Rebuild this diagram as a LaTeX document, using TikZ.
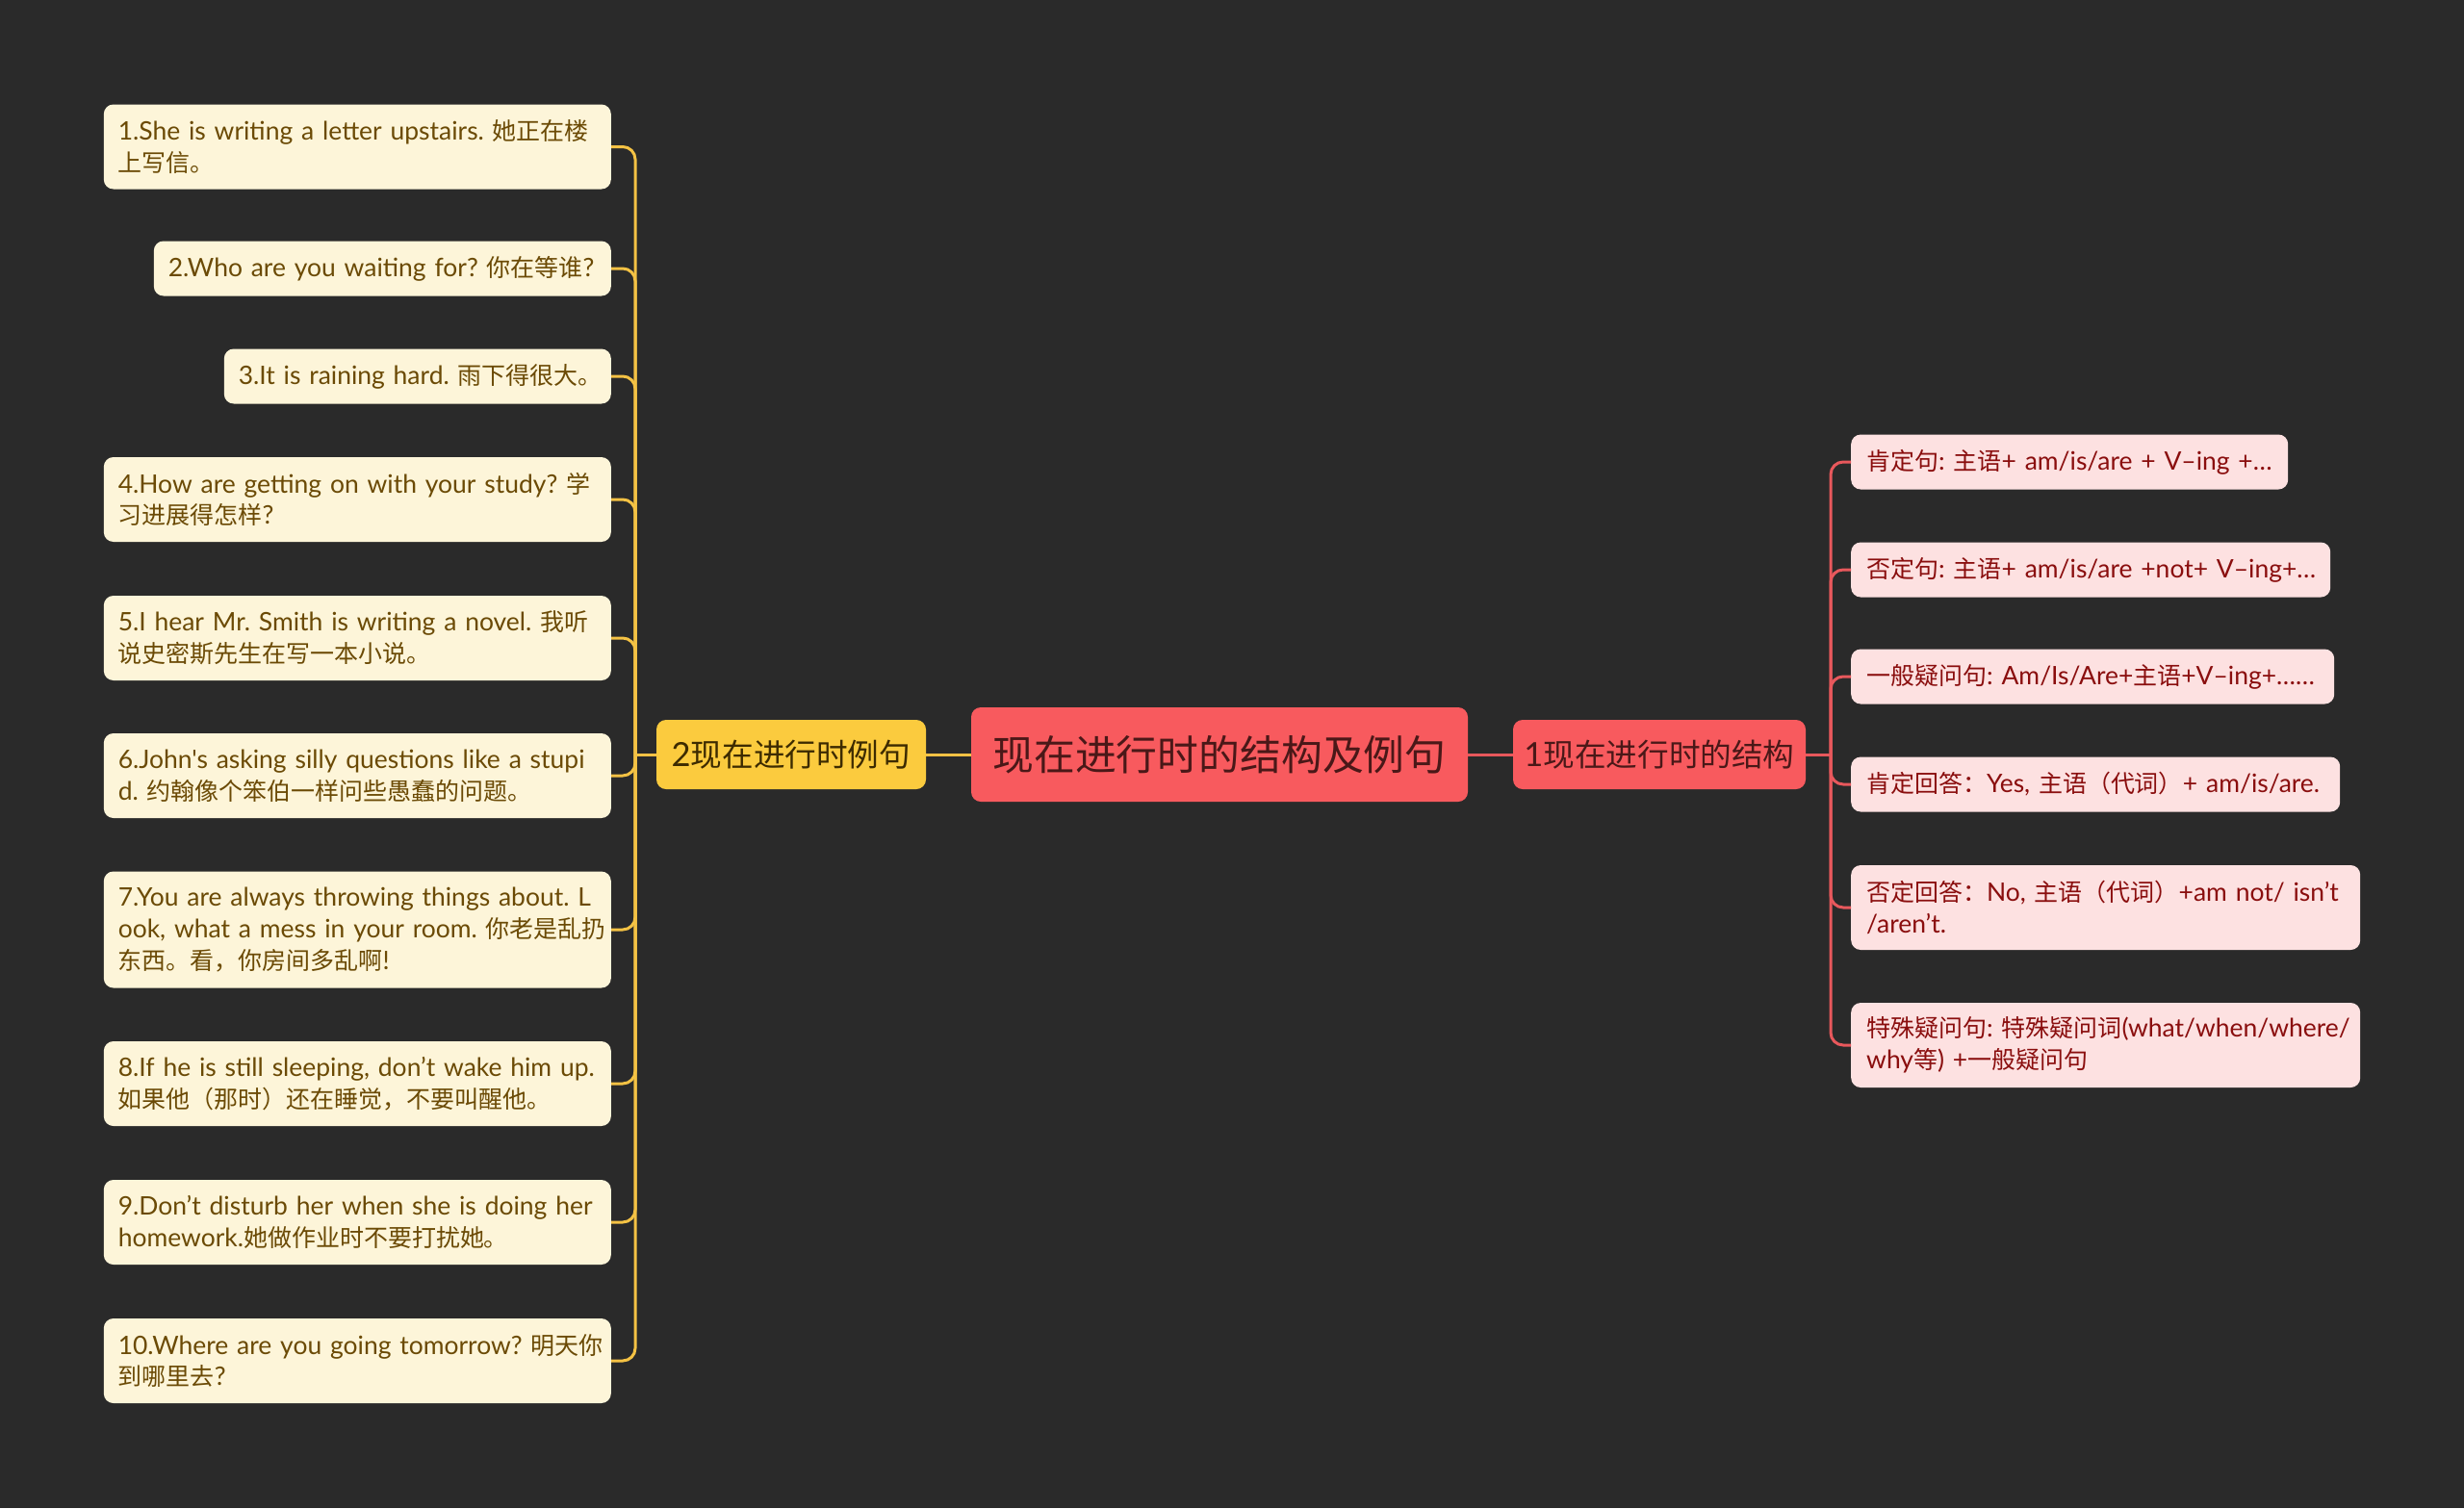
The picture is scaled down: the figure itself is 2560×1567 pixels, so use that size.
\documentclass[tikz,border=0pt]{standalone}
\usepackage{fontspec}
\setmainfont{Lato}[Ligatures=TeXOff,Scale=1.08]
\newfontfamily\cjkf{Noto Sans CJK SC}[Ligatures=TeXOff,Scale=1.02]
\frenchspacing
\XeTeXinterchartokenstate=1
\newXeTeXintercharclass\CJKcls
\newcount\cjkcnt
\def\setcjkrange#1#2{\cjkcnt=#1 \loop\XeTeXcharclass\cjkcnt=\CJKcls\relax\ifnum\cjkcnt<#2 \advance\cjkcnt by 1 \repeat}
\setcjkrange{"4E00}{"9FFF}
\setcjkrange{"3000}{"303F}
\setcjkrange{"FF00}{"FFEF}
\XeTeXinterchartoks 0 \CJKcls = {\begingroup\cjkf}
\XeTeXinterchartoks 4095 \CJKcls = {\begingroup\cjkf}
\XeTeXinterchartoks \CJKcls 0 = {\endgroup}
\XeTeXinterchartoks \CJKcls 4095 = {\endgroup}
\definecolor{bgc}{HTML}{2A2A2A}
\definecolor{leafY}{HTML}{FDF5D9}
\definecolor{leafYt}{HTML}{6B4A05}
\definecolor{linkY}{HTML}{F4C244}
\definecolor{midY}{HTML}{FBCB3E}
\definecolor{midYt}{HTML}{3D2B00}
\definecolor{rootR}{HTML}{F85A5E}
\definecolor{rootRt}{HTML}{4A1818}
\definecolor{linkR}{HTML}{E8585C}
\definecolor{leafR}{HTML}{FDE1E1}
\definecolor{leafRt}{HTML}{8A0E0E}
\tikzset{
  leafy/.style={rectangle, rounded corners=10pt, fill=leafY, text=leafYt, inner xsep=15pt, inner ysep=0pt, align=left, anchor=east, font=\fontsize{24.5}{32.7}\selectfont},
  leafr/.style={rectangle, rounded corners=10pt, fill=leafR, text=leafRt, inner xsep=16pt, inner ysep=0pt, align=left, anchor=west, font=\fontsize{24.5}{32.7}\selectfont},
  one/.style={minimum height=57pt},
  two/.style={minimum height=88pt},
  three/.style={minimum height=121pt},
  ylink/.style={draw=linkY, line width=3pt, rounded corners=13pt},
  rlink/.style={draw=linkR, line width=3pt, rounded corners=13pt},
}
\begin{document}
\begin{tikzpicture}[x=1pt,y=-1pt]
\fill[bgc] (0,0) rectangle (2560,1567);

% root and first level
\node[rectangle, rounded corners=10pt, fill=rootR, text=rootRt, minimum width=516pt, minimum height=98pt, inner sep=0pt, font=\fontsize{42}{48}\selectfont] (root) at (1267,784) {现在进行时的结构及例句};
\node[rectangle, rounded corners=10pt, fill=midY, text=midYt, minimum width=280pt, minimum height=72pt, inner sep=0pt, font=\fontsize{32}{38}\selectfont] (ex) at (822,784) {2现在进行时例句};
\node[rectangle, rounded corners=10pt, fill=rootR, text=rootRt, minimum width=304pt, minimum height=72pt, inner sep=0pt, font=\fontsize{32}{38}\selectfont] (st) at (1724,784) {1现在进行时的结构};

\coordinate (lt) at (660,784);
\coordinate (rt) at (1902,784);

% left leaves
\node[leafy, two, text width=497pt] (b1) at (635,152.5) {\mbox{1.She is writing a letter upstairs. 她正在楼}\\\mbox{上写信。}};
\node[leafy, one, text width=445pt] (b2) at (635,279) {\mbox{2.Who are you waiting for? 你在等谁?}};
\node[leafy, one, text width=372pt] (b3) at (635,391) {\mbox{3.It is raining hard. 雨下得很大。}};
\node[leafy, two, text width=497pt] (b4) at (635,519) {\mbox{4.How are getting on with your study? 学}\\\mbox{习进展得怎样?}};
\node[leafy, two, text width=497pt] (b5) at (635,663) {\mbox{5.I hear Mr. Smith is writing a novel. 我听}\\\mbox{说史密斯先生在写一本小说。}};
\node[leafy, two, text width=497pt] (b6) at (635,806) {\mbox{6.John's asking silly questions like a stupi}\\\mbox{d. 约翰像个笨伯一样问些愚蠢的问题。}};
\node[leafy, three, text width=497pt] (b7) at (635,966) {\mbox{7.You are always throwing things about. L}\\\mbox{ook, what a mess in your room. 你老是乱扔}\\\mbox{东西。看，你房间多乱啊!}};
\node[leafy, two, text width=497pt] (b8) at (635,1126) {\mbox{8.If he is still sleeping, don’t wake him up.}\\\mbox{如果他（那时）还在睡觉，不要叫醒他。}};
\node[leafy, two, text width=497pt] (b9) at (635,1270) {\mbox{9.Don’t disturb her when she is doing her}\\\mbox{homework.她做作业时不要打扰她。}};
\node[leafy, two, text width=497pt] (b10) at (635,1414) {\mbox{10.Where are you going tomorrow? 明天你}\\\mbox{到哪里去?}};

% right leaves
\node[leafr, one, text width=422pt] (r1) at (1923,480) {\mbox{肯定句: 主语+ am/is/are + V–ing +…}};
\node[leafr, one, text width=466pt] (r2) at (1923,592) {\mbox{否定句: 主语+ am/is/are +not+ V–ing+…}};
\node[leafr, one, text width=470pt] (r3) at (1923,703) {\mbox{一般疑问句: Am/Is/Are+主语+V–ing+……}};
\node[leafr, one, text width=476pt] (r4) at (1923,815) {\mbox{肯定回答：Yes, 主语（代词）+ am/is/are.}};
\node[leafr, two, text width=497pt] (r5) at (1923,943) {\mbox{否定回答：No, 主语（代词）+am not/ isn’t}\\\mbox{/aren’t.}};
\node[leafr, two, text width=497pt] (r6) at (1923,1086) {\mbox{特殊疑问句: 特殊疑问词(what/when/where/}\\\mbox{why等) +一般疑问句}};

% connectors
\draw[ylink] (root.west) -- (ex.east);
\draw[rlink] (root.east) -- (st.west);
\draw[ylink] (ex.west) -- (lt);
\draw[rlink] (st.east) -- (rt);
\foreach \n in {b1,b2,b3,b4,b5,b6,b7,b8,b9,b10}
  \draw[ylink] (lt) |- (\n.east);
\foreach \n in {r1,r2,r3,r4,r5,r6}
  \draw[rlink] (rt) |- (\n.west);
\end{tikzpicture}
\end{document}
